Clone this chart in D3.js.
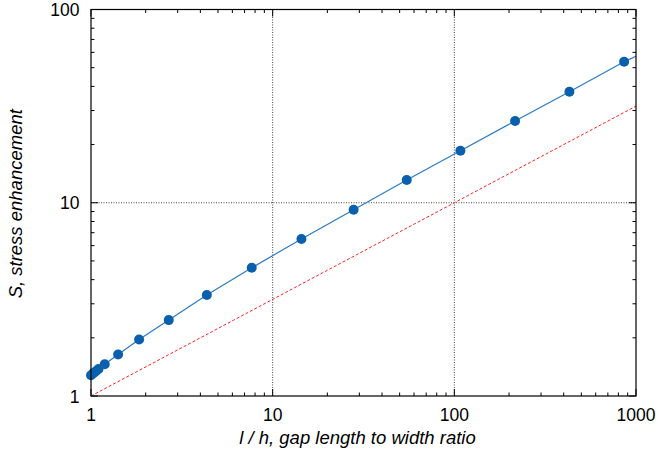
<!DOCTYPE html>
<html>
<head>
<meta charset="utf-8">
<script src="https://cdn.jsdelivr.net/npm/d3@7"></script>
<style>
  body { margin: 0; background: #fff; }
  svg { font-family: "Liberation Sans", Arial, Helvetica, sans-serif; }
  .tick-label { font-size: 17.5px; fill: #000; }
  .axis-title { font-size: 18.5px; font-style: italic; fill: #000; }
</style>
</head>
<body>
<div id="chart"></div>
<script>
// measured points: l/h ratio vs stress enhancement
var ratio = [1.0, 1.03, 1.06, 1.1, 1.19, 1.41, 1.84, 2.68, 4.34, 7.67, 14.4, 27.9, 54.7, 108, 216, 430, 860];
var stress = [1.28, 1.31, 1.34, 1.38, 1.46, 1.64, 1.96, 2.47, 3.33, 4.61, 6.49, 9.2, 13.1, 18.6, 26.5, 37.5, 53.6];

// fitted curve drawn through the points, continued to the edge
var fitRatio = ratio.concat([1000]);
var fitStress = stress.concat([57.3]);

// reference line S = sqrt(l/h)
var refRatio = [1, 1000];
var refStress = [1, 31.62];

var xTicks = [1, 10, 100, 1000];
var yTicks = [1, 10, 100];
var xGrid = [10, 100];
var yGrid = [10];

var W = 659, H = 457;
var margin = {top: 9.5, right: 23, bottom: 61, left: 91};
var width = W - margin.left - margin.right;
var height = H - margin.top - margin.bottom;

var svg = d3.select("#chart").append("svg")
  .attr("width", W).attr("height", H);
var g = svg.append("g")
  .attr("transform", "translate(" + margin.left + "," + margin.top + ")");

var x = d3.scaleLog().domain([1, 1000]).range([0, width]);
var y = d3.scaleLog().domain([1, 100]).range([height, 0]);

// minor ticks 2..9 per decade
function minors(domain) {
  var out = [];
  for (var d = domain[0]; d < domain[1]; d *= 10)
    for (var k = 2; k <= 9; k++) out.push(d * k);
  return out;
}

// gridlines
g.selectAll(".xgrid").data(xGrid).enter().append("line")
  .attr("x1", d => x(d)).attr("x2", d => x(d))
  .attr("y1", 0).attr("y2", height)
  .attr("stroke", "#444").attr("stroke-width", 1)
  .attr("stroke-dasharray", "1,1.5");
g.selectAll(".ygrid").data(yGrid).enter().append("line")
  .attr("y1", d => y(d)).attr("y2", d => y(d))
  .attr("x1", 0).attr("x2", width)
  .attr("stroke", "#444").attr("stroke-width", 1)
  .attr("stroke-dasharray", "1,1.5");

// inward ticks on all four sides
var tickG = g.append("g").attr("stroke", "#000").attr("stroke-width", 1);
[[xTicks, 7], [minors([1, 1000]), 3.5]].forEach(function (t) {
  t[0].forEach(function (v) {
    tickG.append("line").attr("x1", x(v)).attr("x2", x(v)).attr("y1", height).attr("y2", height - t[1]);
    tickG.append("line").attr("x1", x(v)).attr("x2", x(v)).attr("y1", 0).attr("y2", t[1]);
  });
});
[[yTicks, 7], [minors([1, 100]), 3.5]].forEach(function (t) {
  t[0].forEach(function (v) {
    tickG.append("line").attr("y1", y(v)).attr("y2", y(v)).attr("x1", 0).attr("x2", t[1]);
    tickG.append("line").attr("y1", y(v)).attr("y2", y(v)).attr("x1", width).attr("x2", width - t[1]);
  });
});

var line = d3.line().x(d => x(d[0])).y(d => y(d[1]));

// reference line
g.append("path")
  .datum(d3.zip(refRatio, refStress))
  .attr("d", line)
  .attr("fill", "none")
  .attr("stroke", "#f22")
  .attr("stroke-width", 1)
  .attr("stroke-dasharray", "3,2");

// fit curve
g.append("path")
  .datum(d3.zip(fitRatio, fitStress))
  .attr("d", line)
  .attr("fill", "none")
  .attr("stroke", "#2a7bc4")
  .attr("stroke-width", 1.2);

// points
g.selectAll(".pt").data(d3.zip(ratio, stress)).enter().append("circle")
  .attr("cx", d => x(d[0]))
  .attr("cy", d => y(d[1]))
  .attr("r", 5)
  .attr("fill", "#0a60ad");

// frame
g.append("rect")
  .attr("width", width).attr("height", height)
  .attr("fill", "none").attr("stroke", "#000").attr("stroke-width", 1.2);

// tick labels
g.selectAll(".xl").data(xTicks).enter().append("text")
  .attr("class", "tick-label")
  .attr("x", d => x(d)).attr("y", height + 24.5)
  .attr("text-anchor", "middle")
  .text(d => d);
g.selectAll(".yl").data(yTicks).enter().append("text")
  .attr("class", "tick-label")
  .attr("x", -11.5).attr("y", d => y(d) + 6.5)
  .attr("text-anchor", "end")
  .text(d => d);

// axis titles
g.append("text")
  .attr("class", "axis-title")
  .attr("x", width / 2 - 6).attr("y", height + 48)
  .attr("text-anchor", "middle")
  .text("l / h, gap length to width ratio");
g.append("text")
  .attr("class", "axis-title")
  .attr("transform", "translate(" + (-69) + "," + (height / 2 + 1) + ") rotate(-90)")
  .attr("text-anchor", "middle")
  .text("S, stress enhancement");
</script>
</body>
</html>
